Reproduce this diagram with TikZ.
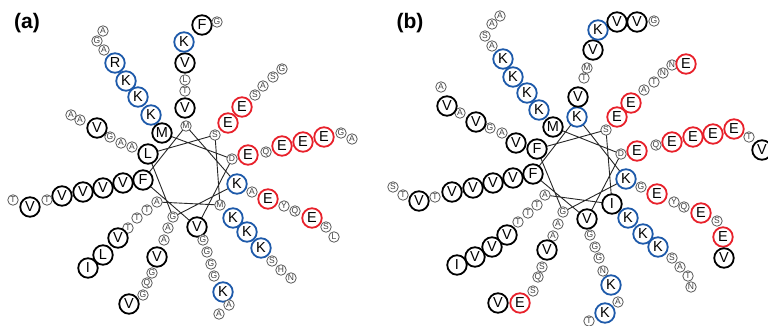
\documentclass[tikz,border=0pt]{standalone}
\usepackage{fontspec}
\setmainfont{Liberation Sans}
\definecolor{kb}{HTML}{1E5AAA}
\definecolor{er}{HTML}{E8212B}
\pgfdeclarelayer{bg}\pgfsetlayers{bg,main}
\tikzset{
 hv/.style={circle,draw=black,line width=1.8pt,fill=white,minimum size=19.5pt,inner sep=0pt,font=\fontsize{14.5}{14.5}\selectfont},
 kp/.style={hv,draw=kb},
 ep/.style={hv,draw=er},
 sm/.style={circle,draw=black!65,line width=0.8pt,fill=white,minimum size=10.5pt,inner sep=0pt,text=black!75,font=\fontsize{8.5}{8.5}\selectfont},
 starline/.style={draw=black!85,line width=0.9pt,line join=round},
 lab/.style={font=\bfseries\fontsize{21}{21}\selectfont},
}
\newcommand\spoke[2]{\foreach \x/\y/\st/\t [count=\i] in {#2} {\node[\st] (#1n\i) at (\x,\y) {\t};}}
\begin{document}
\begin{tikzpicture}[x=1pt,y=-1pt]
\useasboundingbox (0,0) rectangle (768,326);
\node[lab] (la) at (27,23) {(a)};
\node[lab] (lb) at (410,23) {(b)};
% ---------- panel a ----------
\spoke{a0}{186/126/sm/M,185/108/hv/V,185/91/sm/T,185/80/sm/L,185/63/hv/V,184/42/kp/K,202/25/hv/F,217/22/sm/G}
\spoke{a1}{215/135/sm/S,228/123/ep/E,242/107/ep/E,255/95/sm/S,263/86/sm/A,273/77/sm/S,282/69/sm/G}
\spoke{a2}{232/159/sm/D,248/155/ep/E,266/152/sm/Q,282/146/ep/E,303/142/ep/E,324/137/ep/E,341/133/sm/G,352/139/sm/A}
\spoke{a3}{237/184/kp/K,252/192/sm/A,268/199/ep/E,284/206/sm/Y,295/211/sm/Q,312/218/ep/E,326/227/sm/S,334/237/sm/L}
\spoke{a4}{220/205/sm/M,233/218/kp/K,247/232/kp/K,261/248/kp/K,272/261/sm/S,281/270/sm/H,291/278/sm/N}
\spoke{a5}{197/227/hv/V,203/240/sm/G,207/252/sm/G,211/264/sm/G,214/276/sm/G,223/292/kp/K,229/305/sm/A,219/314/sm/A}
\spoke{a6}{173/217/sm/G,168/228/sm/A,164/240/sm/A,157/257/hv/V,152/273/sm/G,147/283/sm/Q,143/295/sm/G,129/304/hv/V}
\spoke{a7}{157/202/sm/A,147/210/sm/T,137/218/sm/T,128/228/sm/T,118/238/hv/V,103/255/hv/L,88/268/hv/I}
\spoke{a8}{143/180/hv/F,123/183/hv/V,103/188/hv/V,83/192/hv/V,62/196/hv/V,47/200/sm/T,30/207/hv/V,13/200/sm/T}
\spoke{a9}{148/154/hv/L,132/147/sm/A,121/143/sm/A,110/137/sm/G,97/128/hv/V,80/120/sm/A,71/115/sm/A}
\spoke{a10}{162/133/hv/M,151/115/kp/K,138/97/kp/K,126/81/kp/K,115/63/kp/R,104/50/sm/A,97/41/sm/G,103/31/sm/A}
% ---------- panel b ----------
\spoke{b0}{577/117/kp/K,578/97/hv/V,584/78/sm/T,587/68/sm/M,593/50/hv/V,598/30/kp/K,617/22/hv/V,637/22/hv/V,654/21/sm/G}
\spoke{b1}{606/130/sm/S,617/117/ep/E,631/103/ep/E,644/90/sm/A,654/82/sm/T,663/73/sm/N,672/65/sm/N,686/64/ep/E}
\spoke{b2}{621/154/sm/D,637/151/ep/E,656/145/sm/Q,672/142/ep/E,693/137/ep/E,713/134/ep/E,734/129/ep/E,749/137/sm/T,762/150/hv/V}
\spoke{b3}{626/179/kp/K,641/187/sm/G,657/194/ep/E,674/202/sm/Y,684/207/sm/Q,701/213/ep/E,717/221/sm/S,723/237/ep/E,724/258/hv/V}
\spoke{b4}{612/204/hv/I,628/218/kp/K,643/234/kp/K,658/247/kp/K,672/258/sm/S,680/267/sm/A,688/276/sm/T,691/287/sm/N}
\spoke{b5}{587/219/hv/V,590/235/sm/G,595/247/sm/G,599/258/sm/G,603/271/sm/N,611/285/kp/K,618/302/sm/A,605/313/kp/K,589/321/sm/T}
\spoke{b6}{563/212/sm/G,558/224/sm/A,553/236/sm/A,547/250/hv/V,542/267/sm/S,538/277/sm/Q,533/291/sm/S,520/303/ep/E,498/303/hv/V}
\spoke{b7}{545/195/sm/A,537/205/sm/T,528/213/sm/T,518/222/sm/T,507/235/hv/V,492/247/hv/V,475/257/hv/V,457/265/hv/I}
\spoke{b8}{533/174/hv/F,513/178/hv/V,493/183/hv/V,473/188/hv/V,452/192/hv/V,435/197/sm/T,419/201/hv/V,403/195/sm/T,393/187/sm/S}
\spoke{b9}{537/149/hv/F,516/143/hv/V,502/133/sm/A,490/128/sm/G,476/122/hv/V,460/113/sm/A,447/106/hv/V,441/87/sm/A}
\spoke{b10}{553/127/hv/M,539/110/kp/K,527/93/kp/K,513/77/kp/K,503/59/kp/K,492/46/sm/A,485/36/sm/S,492/24/sm/A,500/16/sm/A}
\begin{pgfonlayer}{bg}
\draw[starline] (a10n1.center) -- (a2n1.center) -- (a5n1.center) -- (a8n1.center) -- (a0n1.center) -- (a3n1.center) -- (a6n1.center) -- (a9n1.center) -- (a1n1.center) -- (a4n1.center) -- (a7n1.center);
\draw[starline] (b10n1.center) -- (b2n1.center) -- (b5n1.center) -- (b8n1.center) -- (b0n1.center) -- (b3n1.center) -- (b6n1.center) -- (b9n1.center) -- (b1n1.center) -- (b4n1.center) -- (b7n1.center);
\end{pgfonlayer}
\end{tikzpicture}
\end{document}
